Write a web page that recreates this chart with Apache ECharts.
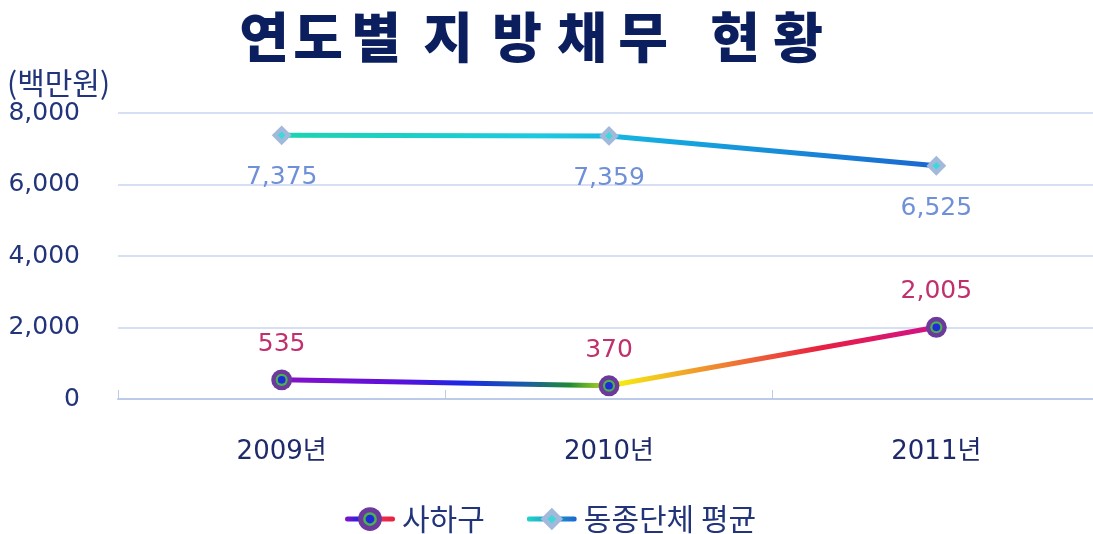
<!DOCTYPE html>
<html>
<head>
<meta charset="utf-8">
<script src="https://cdn.jsdelivr.net/npm/echarts@6/dist/echarts.min.js"></script>
<style>
  html, body { margin: 0; padding: 0; background: #fff; }
  #chart { width: 1093px; height: 534px; }
</style>
</head>
<body>
<div id="chart"></div>
<script>
const years = ["2009년", "2010년", "2011년"];
const sahagu = [535, 370, 2005];
const peerAvg = [7375, 7359, 6525];
const yTicks = { min: 0, max: 8000, step: 2000 };

const FONT = '"Noto Sans CJK KR", "Noto Sans", sans-serif';
const NUMFONT = '"DejaVu Sans", "Noto Sans CJK KR", sans-serif';

function svgUri(s) {
  return "image://data:image/svg+xml;charset=utf-8," + encodeURIComponent(s);
}

// concentric ring marker like the original (purple / green / blue)
const ringInner =
  '<circle cx="20" cy="20" r="19" fill="#6b3a9c"/>' +
  '<circle cx="20" cy="20" r="11" fill="#4caf50"/>' +
  '<circle cx="20" cy="20" r="7" fill="#1d2bd8"/>';
const diamondInner =
  '<polygon points="20,2 38,20 20,38 2,20" fill="#a3b9dc"/>' +
  '<polygon points="20,13 27,20 20,27 13,20" fill="#3fd8d8"/>';
const ringIcon = svgUri('<svg xmlns="http://www.w3.org/2000/svg" width="40" height="40">' + ringInner + '</svg>');
const diamondIcon = svgUri('<svg xmlns="http://www.w3.org/2000/svg" width="40" height="40">' + diamondInner + '</svg>');

// legend icons: line + marker
const ringLegend = svgUri(
  '<svg xmlns="http://www.w3.org/2000/svg" width="80" height="40">' +
  '<defs><linearGradient id="g" x1="0" x2="1"><stop offset="0" stop-color="#8a10c8"/><stop offset="0.3" stop-color="#2020e0"/><stop offset="0.7" stop-color="#e83050"/><stop offset="1" stop-color="#e8203e"/></linearGradient></defs>' +
  '<rect x="0" y="16" width="80" height="8" rx="4" fill="url(#g)"/>' +
  '<g transform="translate(20,0)">' + ringInner + '</g></svg>');
const diamondLegend = svgUri(
  '<svg xmlns="http://www.w3.org/2000/svg" width="80" height="40">' +
  '<defs><linearGradient id="h" x1="0" x2="1"><stop offset="0" stop-color="#22d4c8"/><stop offset="1" stop-color="#1a66d0"/></linearGradient></defs>' +
  '<rect x="0" y="16" width="80" height="8" rx="4" fill="url(#h)"/>' +
  '<g transform="translate(20,0)">' + diamondInner + '</g></svg>');

const rainbow = new echarts.graphic.LinearGradient(0, 0, 1, 0, [
  { offset: 0, color: "#8a10c8" },
  { offset: 0.18, color: "#5a10dc" },
  { offset: 0.28, color: "#1a28e4" },
  { offset: 0.37, color: "#1a5aa8" },
  { offset: 0.44, color: "#1f8a34" },
  { offset: 0.49, color: "#a8d020" },
  { offset: 0.51, color: "#f5ee10" },
  { offset: 0.65, color: "#f09030" },
  { offset: 0.82, color: "#e82040" },
  { offset: 1, color: "#d0108e" }
]);
const tealBlue = new echarts.graphic.LinearGradient(0, 0, 1, 0, [
  { offset: 0, color: "#1cd4b0" },
  { offset: 0.4, color: "#1ec8e0" },
  { offset: 0.55, color: "#14aee0" },
  { offset: 1, color: "#1a66d0" }
]);

// title: the original uses a wide-tracked heavy font, so each glyph is placed on its own
const titleChars = "연도별지방채무현황".split("");
const titleX = [264, 318, 376, 448, 517, 582, 643, 735, 798];
const titleGraphics = titleChars.map((ch, i) => ({
  type: "text",
  x: titleX[i],
  y: 10,
  style: { text: ch, fontSize: 54, fontWeight: 900, fill: "#0b1f5e", fontFamily: FONT, align: "center" }
}));

const chart = echarts.init(document.getElementById("chart"));
chart.setOption({
  animation: false,
  textStyle: { fontFamily: FONT },
  graphic: titleGraphics.concat([
    {
      type: "text",
      left: 7,
      top: 68,
      style: { text: "(백만원)", fontSize: 30, fill: "#23357a", fontFamily: FONT }
    }
  ]),
  legend: {
    bottom: -5,
    left: 340,
    itemWidth: 50,
    itemHeight: 25,
    itemGap: 42,
    textStyle: { fontSize: 30, color: "#23357a", fontFamily: FONT, padding: [0, 0, 0, 2] },
    data: [
      { name: "사하구", icon: ringLegend },
      { name: "동종단체 평균", icon: diamondLegend }
    ]
  },
  grid: { left: 118, width: 982, top: 113, bottom: 135, outerBoundsMode: "none" },
  xAxis: {
    type: "category",
    data: years,
    boundaryGap: true,
    axisLine: { lineStyle: { color: "#bccbea", width: 2 } },
    axisTick: { show: true, inside: true, length: 9, lineStyle: { color: "#bccbea" } },
    axisLabel: { fontSize: 26, color: "#1f2a6a", margin: 40, fontFamily: NUMFONT }
  },
  yAxis: {
    type: "value",
    min: yTicks.min,
    max: yTicks.max,
    interval: yTicks.step,
    axisLine: { show: false },
    axisTick: { show: false },
    splitLine: { lineStyle: { color: "#c8d5ef", width: 1.5 } },
    axisLabel: {
      fontSize: 25,
      color: "#23357a",
      margin: 38,
      fontFamily: NUMFONT,
      formatter: v => v.toLocaleString("en-US")
    }
  },
  series: [
    {
      name: "사하구",
      type: "line",
      data: sahagu,
      symbol: ringIcon,
      symbolSize: 22,
      lineStyle: { color: rainbow, width: 5 },
      itemStyle: { color: "#6b3a9c" },
      label: {
        show: true,
        position: "top",
        distance: 12,
        fontSize: 25,
        fontFamily: NUMFONT,
        color: "#c0306c",
        formatter: p => p.value.toLocaleString("en-US")
      },
      z: 3
    },
    {
      name: "동종단체 평균",
      type: "line",
      data: peerAvg,
      symbol: diamondIcon,
      symbolSize: 22,
      lineStyle: { color: tealBlue, width: 5 },
      itemStyle: { color: "#a3b9dc" },
      label: {
        show: true,
        position: "bottom",
        distance: 19,
        fontSize: 25,
        fontFamily: NUMFONT,
        color: "#6f90d8",
        formatter: p => p.value.toLocaleString("en-US")
      }
    }
  ]
});
</script>
</body>
</html>
